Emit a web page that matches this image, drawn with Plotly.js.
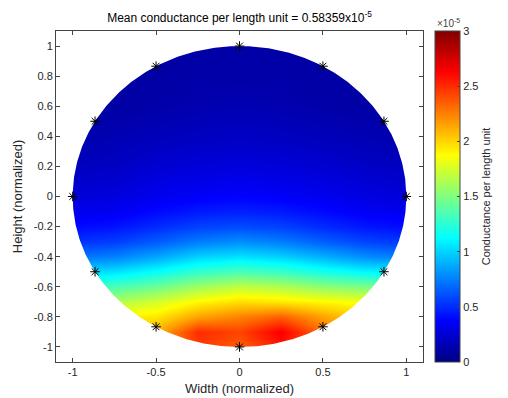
<!DOCTYPE html>
<html>
<head>
<meta charset="utf-8">
<script src="https://cdn.plot.ly/plotly-3.0.1.min.js"></script>
<style>html,body{margin:0;padding:0;background:#fff;}#plot{width:508px;height:398px;}</style>
</head>
<body>
<div id="plot"></div>
<script>
// Grid (normalized coordinates) and conductance values (units of 1e-5)
var gridX = [-1, -0.75, -0.5, -0.25, 0, 0.25, 0.5, 0.75, 1];
var gridY = [-1, -0.9, -0.8, -0.7, -0.6, -0.5, -0.4, -0.3, -0.2, -0.1, 0, 0.2, 0.4, 0.6, 0.8, 1];
var conductance = [
  [2.10, 2.15, 2.20, 2.45, 2.35, 2.55, 2.35, 2.15, 2.05],
  [2.00, 2.05, 2.10, 2.50, 2.43, 2.65, 2.30, 2.10, 2.00],
  [1.85, 1.90, 1.95, 2.15, 2.25, 2.35, 2.15, 2.00, 1.90],
  [1.60, 1.65, 1.75, 1.90, 1.98, 1.95, 1.90, 1.85, 1.75],
  [1.30, 1.35, 1.45, 1.60, 1.70, 1.65, 1.55, 1.50, 1.45],
  [1.00, 1.05, 1.15, 1.28, 1.35, 1.30, 1.20, 1.12, 1.10],
  [0.72, 0.76, 0.87, 1.00, 1.05, 1.00, 0.90, 0.80, 0.75],
  [0.52, 0.56, 0.65, 0.75, 0.80, 0.75, 0.66, 0.58, 0.54],
  [0.40, 0.43, 0.50, 0.57, 0.60, 0.57, 0.50, 0.44, 0.41],
  [0.32, 0.34, 0.40, 0.45, 0.47, 0.45, 0.40, 0.35, 0.33],
  [0.26, 0.28, 0.33, 0.36, 0.38, 0.36, 0.33, 0.29, 0.27],
  [0.18, 0.20, 0.24, 0.26, 0.27, 0.26, 0.24, 0.21, 0.19],
  [0.13, 0.15, 0.17, 0.19, 0.20, 0.19, 0.17, 0.15, 0.13],
  [0.10, 0.11, 0.12, 0.14, 0.15, 0.14, 0.12, 0.11, 0.10],
  [0.09, 0.10, 0.11, 0.12, 0.12, 0.12, 0.11, 0.10, 0.09],
  [0.08, 0.09, 0.10, 0.11, 0.12, 0.11, 0.10, 0.09, 0.08]
];
// Electrode positions on the unit circle
var electrodeX = [1, 0.866, 0.5, 0, -0.5, -0.866, -1, -0.866, -0.5, 0, 0.5, 0.866];
var electrodeY = [0, 0.5, 0.866, 1, 0.866, 0.5, 0, -0.5, -0.866, -1, -0.866, -0.5];
var colorTicks = [0, 0.5, 1, 1.5, 2, 2.5, 3];
var xTicks = [-1, -0.5, 0, 0.5, 1];
var yTicks = [-1, -0.8, -0.6, -0.4, -0.2, 0, 0.2, 0.4, 0.6, 0.8, 1];

var jet = [[0,'rgb(0,0,128)'],[0.125,'rgb(0,0,255)'],[0.375,'rgb(0,255,255)'],
           [0.625,'rgb(255,255,0)'],[0.875,'rgb(255,0,0)'],[1,'rgb(128,0,0)']];

// white mask outside the unit circle (keyhole polygon)
var maskX = [1.3, 1.3, -1.3, -1.3, 1.3, 1.3];
var maskY = [0, 1.3, 1.3, -1.3, -1.3, 0];
for (var i = 0; i <= 720; i++) {
  var a = -i * Math.PI / 360;
  maskX.push(Math.cos(a)); maskY.push(Math.sin(a));
}
maskX.push(1.3); maskY.push(0);

var font = 'Liberation Sans, Arial, Helvetica, sans-serif';

var traces = [
  {
    type: 'heatmap', x: gridX, y: gridY, z: conductance,
    zmin: 0, zmax: 3, zsmooth: 'best', colorscale: jet, hoverinfo: 'skip',
    colorbar: {
      x: 1.033, xanchor: 'left', xpad: 0, y: 0.5, yanchor: 'middle', len: 1, lenmode: 'fraction',
      ypad: 0, thickness: 25, thicknessmode: 'pixels',
      outlinecolor: '#444', outlinewidth: 1,
      tickvals: colorTicks, ticktext: colorTicks.map(String),
      ticks: 'inside', ticklen: 3, tickcolor: '#444',
      tickfont: {family: font, size: 11, color: '#262626'},
      title: {text: 'Conductance per length unit', side: 'right', font: {family: font, size: 11, color: '#262626'}}
    }
  },
  {
    type: 'scatter', mode: 'lines', x: maskX, y: maskY, fill: 'toself',
    fillcolor: '#ffffff', line: {width: 0, color: 'rgba(0,0,0,0)'}, hoverinfo: 'skip', showlegend: false
  },
  {
    type: 'scatter', mode: 'markers', x: electrodeX, y: electrodeY, cliponaxis: false,
    marker: {symbol: 'asterisk-open', size: 8, color: '#000', line: {color: '#000', width: 1}},
    hoverinfo: 'skip', showlegend: false
  }
];

var axisCommon = {
  range: [-1.1, 1.1], showgrid: false, zeroline: false, showline: true, mirror: 'allticks',
  linecolor: '#444', linewidth: 1, ticks: 'inside', ticklen: 4, tickcolor: '#444',
  tickfont: {family: font, size: 11, color: '#262626'}, fixedrange: true
};

var layout = {
  width: 508, height: 398,
  margin: {l: 56, r: 85, t: 31, b: 36},
  paper_bgcolor: '#fff', plot_bgcolor: '#fff',
  showlegend: false,
  title: {text: 'Mean conductance per length unit = 0.58359x10<sup>-5</sup>',
          font: {family: font, size: 12, color: '#000'},
          x: 0.5, xref: 'paper', xanchor: 'center', y: 1 - 18/398, yref: 'container', yanchor: 'middle'},
  xaxis: Object.assign({}, axisCommon, {tickvals: xTicks, ticktext: xTicks.map(String),
          title: {text: 'Width (normalized)', font: {family: font, size: 13, color: '#262626'}, standoff: 6}}),
  yaxis: Object.assign({}, axisCommon, {tickvals: yTicks, ticktext: yTicks.map(String),
          title: {text: 'Height (normalized)', font: {family: font, size: 13, color: '#262626'}, standoff: 8}}),
  annotations: [{
    text: '\u00d710<sup>-5</sup>', xref: 'paper', yref: 'paper', x: 1.033, y: 1, xanchor: 'left', yanchor: 'bottom',
    showarrow: false, font: {family: font, size: 10, color: '#444'}, yshift: 0
  }]
};

Plotly.newPlot('plot', traces, layout, {displayModeBar: false, staticPlot: true});
</script>
</body>
</html>
